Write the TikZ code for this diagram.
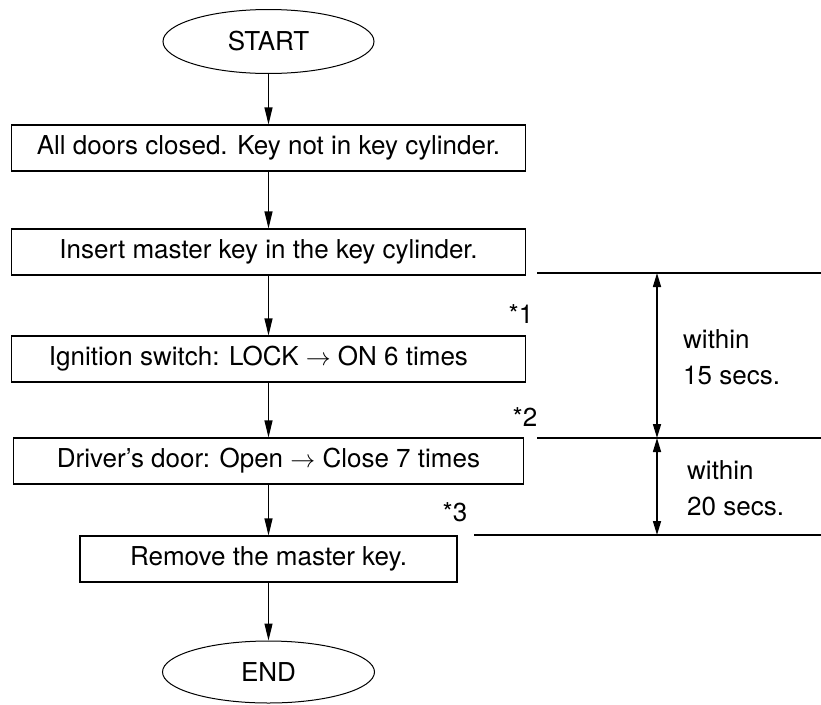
\documentclass[tikz,border=0pt]{standalone}
\usepackage{fontspec}
\setmainfont{TeX Gyre Heros}
\usetikzlibrary{shapes.geometric,arrows.meta}
\begin{document}
\begin{tikzpicture}[x=1pt,y=-1pt,
  every node/.style={font=\fontsize{26}{36}\selectfont},
  term/.style={draw,ellipse,line width=1pt,minimum width=211pt,minimum height=64pt,inner sep=0pt},
  stepbox/.style={draw,rectangle,line width=1.1pt,minimum height=46pt,inner sep=0pt},
  flow/.style={line width=1.2pt,-{Triangle[length=17pt,width=8pt]}},
  span/.style={line width=1.6pt,{Triangle[length=14pt,width=8pt]}-{Triangle[length=14pt,width=8pt]}},
  guide/.style={line width=1.1pt},
  note/.style={inner sep=0pt}]
\useasboundingbox (0,0) rectangle (821,704);
\node[term] (start) at (268.5,41.5) {START};
\node[stepbox,minimum width=514pt] (b1) at (268.5,148) {All doors closed. Key not in key cylinder.};
\node[stepbox,minimum width=514pt] (b2) at (268.5,252) {Insert master key in the key cylinder.};
\node[stepbox,minimum width=514pt] (b3) at (268.5,359) {Ignition switch: LOCK $\rightarrow$ ON 6 times\hspace*{20pt}};
\node[stepbox,minimum width=510pt] (b4) at (268.5,461) {Driver’s door: Open $\rightarrow$ Close 7 times};
\node[stepbox,minimum width=377pt] (b5) at (268.5,559) {Remove the master key.};
\node[term,minimum width=212pt,minimum height=62pt] (end) at (268.5,672) {END};
\draw[flow] (start) -- (b1);
\draw[flow] (b1) -- (b2);
\draw[flow] (b2) -- (b3);
\draw[flow] (b3) -- (b4);
\draw[flow] (b4) -- (b5);
\draw[flow] (b5) -- (end);
\node[note] (n1) at (521,314) {*1};
\node[note] (n2) at (525,417) {*2};
\node[note] (n3) at (455,512) {*3};
\coordinate (l1a) at (537,273); \coordinate (l1b) at (821,273);
\coordinate (l2a) at (537,438); \coordinate (l2b) at (821,438);
\coordinate (l3a) at (474,535); \coordinate (l3b) at (821,535);
\draw[guide] (l1a) -- (l1b);
\draw[guide] (l2a) -- (l2b);
\draw[guide] (l3a) -- (l3b);
\coordinate (s1a) at (657,273); \coordinate (s1b) at (657,438);
\coordinate (s2a) at (657,438); \coordinate (s2b) at (657,535);
\draw[span] (s1a) -- (s1b);
\draw[span] (s2a) -- (s2b);
\node[note,anchor=west,align=left] (t1) at (683,357) {within\\15 secs.};
\node[note,anchor=west,align=left] (t2) at (687,488) {within\\20 secs.};
\end{tikzpicture}
\end{document}
